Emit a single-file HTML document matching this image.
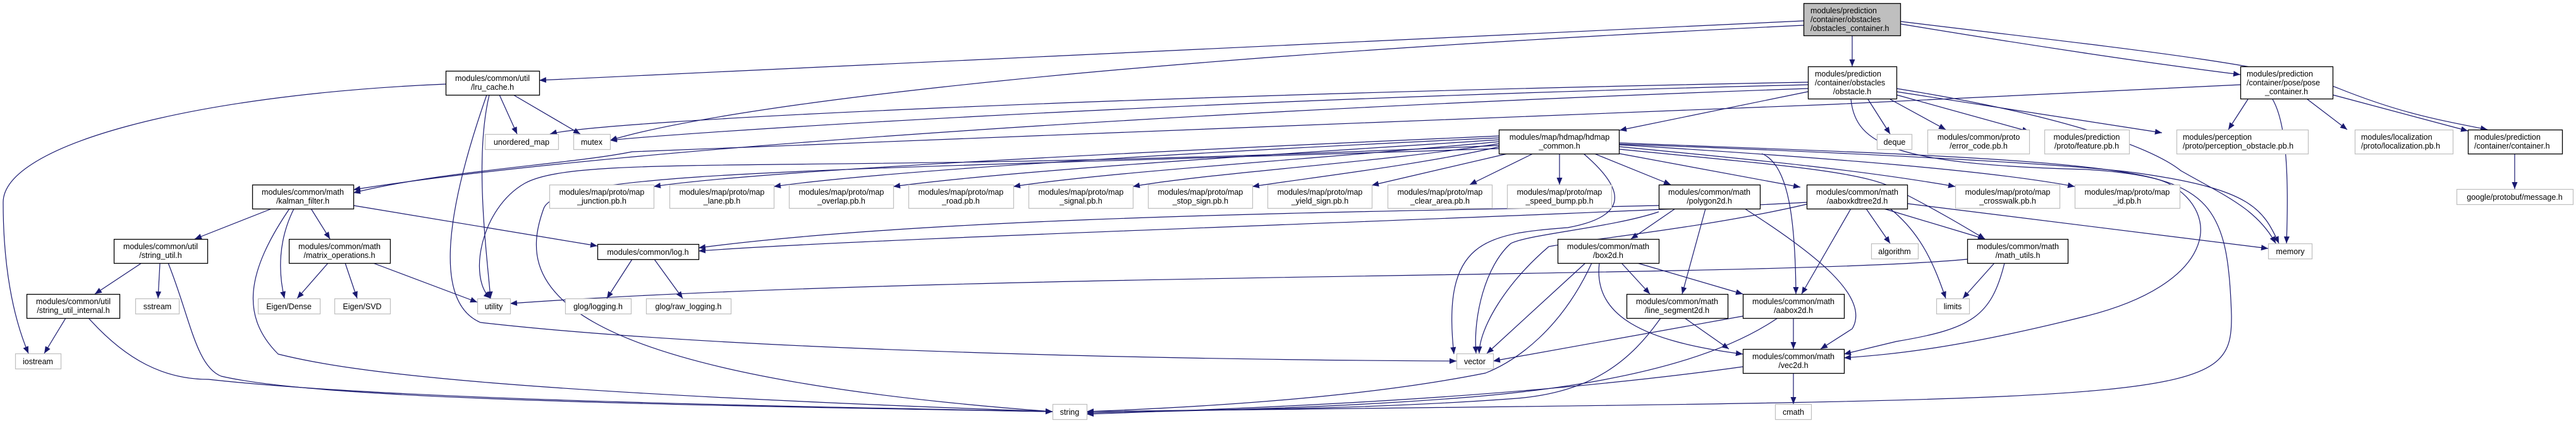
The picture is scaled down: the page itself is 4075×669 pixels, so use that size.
<!DOCTYPE html>
<html><head><meta charset="utf-8"><style>
html,body{margin:0;padding:0;background:#fff}
svg{display:block}
text{font-family:"Liberation Sans",Arial,sans-serif;font-size:12.5px;fill:#000}
.e{fill:none;stroke:#191970;stroke-width:1.2;marker-end:url(#a)}
.d{fill:#fff;stroke:#000;stroke-width:1.3}
.x{fill:#fff;stroke:#bfbfbf;stroke-width:1.2}
</style></head><body>
<svg width="4075" height="669" viewBox="0 0 4075 669" xmlns="http://www.w3.org/2000/svg">
<defs><marker id="a" markerUnits="userSpaceOnUse" markerWidth="11" markerHeight="9" viewBox="0 0 11 9" refX="11" refY="4.5" orient="auto"><path d="M0,0 L11,4.5 L0,9 z" fill="#191970"/></marker></defs>
<g>
<!-- OC edges -->
<path class="e" d="M2930 56 L2930 105"/>
<path class="e" d="M2853 33 L853 127"/>
<path class="e" d="M2853 40 C1600 100,1100 180,965 222"/>
<path class="e" d="M3007 38 C3200 70,3400 100,3544 118"/>
<path class="e" d="M3007 34 C3300 70,3600 100,3700 140 C3800 180,3860 190,3935 205"/>
<!-- OB edges -->
<path class="e" d="M2860 130 C1800 150,950 190,870 212"/>
<path class="e" d="M2860 134 C1800 160,1050 212,965 222"/>
<path class="e" d="M2860 140 C2000 170,1000 230,559 300"/>
<path class="e" d="M2860 145 L2562 206"/>
<path class="e" d="M2955 157 L2990 212"/>
<path class="e" d="M2990 157 L3078 205"/>
<path class="e" d="M3000 150 L3210 208"/>
<path class="e" d="M3000 145 L3420 210"/>
<path class="e" d="M3000 140 C3250 180,3400 230,3450 270 C3520 310,3570 330,3600 385"/>
<path class="e" d="M2928 157 C2935 230,3000 260,3300 268 C3500 280,3525 330,3530 500 C3530 640,3480 630,1719 651"/>
<!-- POSE edges -->
<path class="e" d="M3544 134 C3200 150,3000 160,2900 165 C2000 200,1200 230,1000 240 C900 260,700 270,559 305"/>
<path class="e" d="M3556 157 L3525 205"/>
<path class="e" d="M3595 157 C3620 200,3620 300,3617 385"/>
<path class="e" d="M3650 157 L3713 205"/>
<path class="e" d="M3690 150 L3904 207"/>
<path class="e" d="M3978 243 L3978 299"/>
<!-- LRU edges -->
<path class="e" d="M705 133 C300 150,5 230,5 320 C5 420,20 500,45 559"/>
<path class="e" d="M790 150 L818 212"/>
<path class="e" d="M812 150 L918 212"/>
<path class="e" d="M774 150 C750 250,770 400,776 472"/>
<path class="e" d="M770 150 C700 350,690 480,760 510 C1200 560,2000 570,2304 571"/>
<!-- HC edges -->
<path class="e" d="M2372 215 C1800 240,1200 270,1034 295"/>
<path class="e" d="M2372 218 C1900 240,1400 270,1224 295"/>
<path class="e" d="M2372 221 C2000 245,1600 270,1413 295"/>
<path class="e" d="M2372 224 C2100 250,1750 272,1603 295"/>
<path class="e" d="M2372 227 C2200 255,1900 275,1792 295"/>
<path class="e" d="M2372 232 C2250 260,2080 280,1981 295"/>
<path class="e" d="M2385 243 L2170 293"/>
<path class="e" d="M2425 243 L2325 292"/>
<path class="e" d="M2467 243 L2467 292"/>
<path class="e" d="M2522 243 L2643 292"/>
<path class="e" d="M2562 243 L2848 296"/>
<path class="e" d="M2562 232 C2800 255,2950 270,3093 295"/>
<path class="e" d="M2562 229 C2900 250,3150 270,3282 295"/>
<path class="e" d="M2562 236 C2800 260,2950 270,3000 300 C3060 330,3110 360,3140 378"/>
<path class="e" d="M2562 228 C2900 240,3300 260,3390 275 C3560 300,3580 330,3605 385"/>
<path class="e" d="M2562 226 C2900 240,3350 250,3430 290 C3520 340,3500 450,3300 500 C3100 550,3000 560,2917 566"/>
<path class="e" d="M2787 243 C2830 260,2840 350,2841 465"/>
<path class="e" d="M2505 243 C2560 290,2590 340,2480 360 C2350 370,2280 380,2300 560"/>
<path class="e" d="M2372 230 C1300 280,920 240,830 290 C760 330,740 440,776 472"/>
<path class="e" d="M2372 235 C1300 270,880 270,860 330 C820 440,840 590,1665 651"/>
<!-- POLY edges -->
<path class="e" d="M2650 330 L2580 378"/>
<path class="e" d="M2698 330 L2661 465"/>
<path class="e" d="M2760 330 C2870 400,2960 470,2930 520 L2880 552"/>
<path class="e" d="M2624 335 C2550 360,2420 370,2390 385 C2350 420,2330 500,2335 559"/>
<path class="e" d="M2624 325 C2200 335,1500 340,1105 392"/>
<!-- AKD edges -->
<path class="e" d="M2928 330 L2850 465"/>
<path class="e" d="M2952 330 L2990 385"/>
<path class="e" d="M2990 330 C3040 370,3060 420,3078 472"/>
<path class="e" d="M2980 330 L3140 378"/>
<path class="e" d="M3017 322 L3588 393"/>
<path class="e" d="M2858 323 C2700 360,2500 380,2450 390 C2380 450,2340 520,2340 559"/>
<path class="e" d="M2858 320 C2400 345,1400 375,1105 397"/>
<!-- BOX edges -->
<path class="e" d="M2565 416 L2610 465"/>
<path class="e" d="M2590 416 L2757 465"/>
<path class="e" d="M2530 416 C2520 500,2600 540,2757 560"/>
<path class="e" d="M2508 416 L2352 559"/>
<path class="e" d="M2518 416 C2470 520,2400 570,2350 590 C2200 620,2000 640,1719 651"/>
<!-- LS, AB, V2 -->
<path class="e" d="M2665 503 L2735 552"/>
<path class="e" d="M2627 503 C2580 570,2520 620,2400 630 C2200 645,2000 648,1719 651"/>
<path class="e" d="M2837 503 L2837 552"/>
<path class="e" d="M2757 500 L2362 571"/>
<path class="e" d="M2812 503 C2700 580,2500 615,2300 630 C2100 645,1900 650,1719 653"/>
<path class="e" d="M2837 590 L2837 639"/>
<path class="e" d="M2757 580 C2400 630,2000 645,1719 655"/>
<!-- MU -->
<path class="e" d="M3155 416 L3105 472"/>
<path class="e" d="M3171 416 C3150 500,3120 520,3000 540 L2917 560"/>
<path class="e" d="M3112 410 C2800 440,1500 430,807 480"/>
<!-- KAL -->
<path class="e" d="M430 330 L308 378"/>
<path class="e" d="M492 330 L522 378"/>
<path class="e" d="M465 330 C440 380,440 430,450 472"/>
<path class="e" d="M559 325 L945 389"/>
<path class="e" d="M458 330 C390 430,380 500,440 560 C560 590,800 620,1665 651"/>
<!-- SU, SUI -->
<path class="e" d="M224 416 L150 465"/>
<path class="e" d="M253 416 L250 472"/>
<path class="e" d="M266 416 C300 500,310 580,350 595 C500 630,1000 640,1665 651"/>
<path class="e" d="M104 503 L70 559"/>
<path class="e" d="M140 503 C200 570,260 600,330 600 C600 630,1100 640,1665 651"/>
<!-- MO -->
<path class="e" d="M519 416 L470 472"/>
<path class="e" d="M546 416 L565 472"/>
<path class="e" d="M590 416 L755 478"/>
<!-- LOG -->
<path class="e" d="M1000 410 L960 472"/>
<path class="e" d="M1035 410 L1080 472"/>
</g>
<g>
<!-- nodes -->
<rect x="2853.5" y="5.5" width="153" height="51" fill="#bfbfbf" stroke="#000" stroke-width="1.3"/>
<text x="2864" y="21">modules/prediction</text><text x="2864" y="35">/container/obstacles</text><text x="2864" y="49">/obstacles_container.h</text>
<rect class="d" x="2860.5" y="105.5" width="140" height="51"/>
<text x="2871" y="121">modules/prediction</text><text x="2871" y="135">/container/obstacles</text><text x="2930" y="149" text-anchor="middle">/obstacle.h</text>
<rect class="d" x="3544.5" y="105.5" width="146" height="51"/>
<text x="3554" y="121">modules/prediction</text><text x="3554" y="135">/container/pose/pose</text><text x="3617" y="149" text-anchor="middle">_container.h</text>
<rect class="d" x="705.5" y="112.5" width="148" height="38"/>
<text x="779" y="128" text-anchor="middle">modules/common/util</text><text x="779" y="142" text-anchor="middle">/lru_cache.h</text>
<rect class="d" x="2371.5" y="205.5" width="190" height="38"/>
<text x="2467" y="221" text-anchor="middle">modules/map/hdmap/hdmap</text><text x="2467" y="235" text-anchor="middle">_common.h</text>
<rect class="x" x="767.5" y="212.5" width="116" height="24"/><text x="825" y="229" text-anchor="middle">unordered_map</text>
<rect class="x" x="907.5" y="212.5" width="58" height="24"/><text x="936" y="229" text-anchor="middle">mutex</text>
<rect class="x" x="2969.5" y="212.5" width="55" height="24"/><text x="2997" y="229" text-anchor="middle">deque</text>
<rect class="x" x="3049.5" y="205.5" width="161" height="38"/><text x="3130" y="221" text-anchor="middle">modules/common/proto</text><text x="3130" y="235" text-anchor="middle">/error_code.pb.h</text>
<rect class="x" x="3234.5" y="205.5" width="134" height="38"/><text x="3301" y="221" text-anchor="middle">modules/prediction</text><text x="3301" y="235" text-anchor="middle">/proto/feature.pb.h</text>
<rect class="x" x="3443.5" y="205.5" width="208" height="38"/><text x="3453" y="221">modules/perception</text><text x="3453" y="235">/proto/perception_obstacle.pb.h</text>
<rect class="x" x="3725.5" y="205.5" width="155" height="38"/><text x="3735" y="221">modules/localization</text><text x="3735" y="235">/proto/localization.pb.h</text>
<rect class="d" x="3904.5" y="205.5" width="149" height="38"/><text x="3914" y="221">modules/prediction</text><text x="3914" y="235">/container/container.h</text>
<rect class="x" x="3886.5" y="299.5" width="184" height="24"/><text x="3978" y="316" text-anchor="middle">google/protobuf/message.h</text>
<rect class="d" x="399.5" y="292.5" width="160" height="38"/><text x="479" y="308" text-anchor="middle">modules/common/math</text><text x="479" y="322" text-anchor="middle">/kalman_filter.h</text>
<rect class="x" x="869.5" y="292.5" width="165" height="37"/><text x="952" y="308" text-anchor="middle">modules/map/proto/map</text><text x="952" y="322" text-anchor="middle">_junction.pb.h</text>
<rect class="x" x="1059.5" y="292.5" width="165" height="37"/><text x="1142" y="308" text-anchor="middle">modules/map/proto/map</text><text x="1142" y="322" text-anchor="middle">_lane.pb.h</text>
<rect class="x" x="1248.5" y="292.5" width="165" height="37"/><text x="1331" y="308" text-anchor="middle">modules/map/proto/map</text><text x="1331" y="322" text-anchor="middle">_overlap.pb.h</text>
<rect class="x" x="1437.5" y="292.5" width="166" height="37"/><text x="1520" y="308" text-anchor="middle">modules/map/proto/map</text><text x="1520" y="322" text-anchor="middle">_road.pb.h</text>
<rect class="x" x="1627.5" y="292.5" width="165" height="37"/><text x="1710" y="308" text-anchor="middle">modules/map/proto/map</text><text x="1710" y="322" text-anchor="middle">_signal.pb.h</text>
<rect class="x" x="1816.5" y="292.5" width="165" height="37"/><text x="1899" y="308" text-anchor="middle">modules/map/proto/map</text><text x="1899" y="322" text-anchor="middle">_stop_sign.pb.h</text>
<rect class="x" x="2005.5" y="292.5" width="165" height="37"/><text x="2088" y="308" text-anchor="middle">modules/map/proto/map</text><text x="2088" y="322" text-anchor="middle">_yield_sign.pb.h</text>
<rect class="x" x="2195.5" y="292.5" width="165" height="37"/><text x="2278" y="308" text-anchor="middle">modules/map/proto/map</text><text x="2278" y="322" text-anchor="middle">_clear_area.pb.h</text>
<rect class="x" x="2384.5" y="292.5" width="165" height="37"/><text x="2467" y="308" text-anchor="middle">modules/map/proto/map</text><text x="2467" y="322" text-anchor="middle">_speed_bump.pb.h</text>
<rect class="d" x="2624.5" y="292.5" width="160" height="38"/><text x="2704" y="308" text-anchor="middle">modules/common/math</text><text x="2704" y="322" text-anchor="middle">/polygon2d.h</text>
<rect class="d" x="2858.5" y="292.5" width="159" height="38"/><text x="2938" y="308" text-anchor="middle">modules/common/math</text><text x="2938" y="322" text-anchor="middle">/aaboxkdtree2d.h</text>
<rect class="x" x="3093.5" y="292.5" width="165" height="37"/><text x="3176" y="308" text-anchor="middle">modules/map/proto/map</text><text x="3176" y="322" text-anchor="middle">_crosswalk.pb.h</text>
<rect class="x" x="3282.5" y="292.5" width="166" height="37"/><text x="3365" y="308" text-anchor="middle">modules/map/proto/map</text><text x="3365" y="322" text-anchor="middle">_id.pb.h</text>
<rect class="d" x="180.5" y="378.5" width="148" height="38"/><text x="254" y="394" text-anchor="middle">modules/common/util</text><text x="254" y="408" text-anchor="middle">/string_util.h</text>
<rect class="d" x="457.5" y="378.5" width="160" height="38"/><text x="537" y="394" text-anchor="middle">modules/common/math</text><text x="537" y="408" text-anchor="middle">/matrix_operations.h</text>
<rect class="d" x="945.5" y="386.5" width="160" height="24"/><text x="1025" y="403" text-anchor="middle">modules/common/log.h</text>
<rect class="d" x="2464.5" y="378.5" width="160" height="38"/><text x="2544" y="394" text-anchor="middle">modules/common/math</text><text x="2544" y="408" text-anchor="middle">/box2d.h</text>
<rect class="x" x="2960.5" y="385.5" width="74" height="24"/><text x="2997" y="402" text-anchor="middle">algorithm</text>
<rect class="d" x="3112.5" y="378.5" width="159" height="38"/><text x="3192" y="394" text-anchor="middle">modules/common/math</text><text x="3192" y="408" text-anchor="middle">/math_utils.h</text>
<rect class="x" x="3588.5" y="385.5" width="69" height="24"/><text x="3623" y="402" text-anchor="middle">memory</text>
<rect class="d" x="42.5" y="465.5" width="147" height="38"/><text x="116" y="481" text-anchor="middle">modules/common/util</text><text x="116" y="495" text-anchor="middle">/string_util_internal.h</text>
<rect class="x" x="214.5" y="472.5" width="69" height="24"/><text x="249" y="489" text-anchor="middle">sstream</text>
<rect class="x" x="408.5" y="472.5" width="98" height="24"/><text x="457" y="489" text-anchor="middle">Eigen/Dense</text>
<rect class="x" x="529.5" y="472.5" width="88" height="24"/><text x="573" y="489" text-anchor="middle">Eigen/SVD</text>
<rect class="x" x="755.5" y="472.5" width="52" height="24"/><text x="781" y="489" text-anchor="middle">utility</text>
<rect class="x" x="894.5" y="472.5" width="104" height="24"/><text x="946" y="489" text-anchor="middle">glog/logging.h</text>
<rect class="x" x="1022.5" y="472.5" width="134" height="24"/><text x="1089" y="489" text-anchor="middle">glog/raw_logging.h</text>
<rect class="x" x="3063.5" y="472.5" width="52" height="24"/><text x="3089" y="489" text-anchor="middle">limits</text>
<rect class="d" x="2573.5" y="465.5" width="160" height="38"/><text x="2653" y="481" text-anchor="middle">modules/common/math</text><text x="2653" y="495" text-anchor="middle">/line_segment2d.h</text>
<rect class="d" x="2757.5" y="465.5" width="160" height="38"/><text x="2837" y="481" text-anchor="middle">modules/common/math</text><text x="2837" y="495" text-anchor="middle">/aabox2d.h</text>
<rect class="x" x="24.5" y="559.5" width="72" height="24"/><text x="60" y="576" text-anchor="middle">iostream</text>
<rect class="x" x="2304.5" y="559.5" width="58" height="24"/><text x="2333" y="576" text-anchor="middle">vector</text>
<rect class="d" x="2757.5" y="552.5" width="160" height="38"/><text x="2837" y="568" text-anchor="middle">modules/common/math</text><text x="2837" y="582" text-anchor="middle">/vec2d.h</text>
<rect class="x" x="1665.5" y="639.5" width="54" height="24"/><text x="1692" y="656" text-anchor="middle">string</text>
<rect class="x" x="2808.5" y="639.5" width="57" height="24"/><text x="2837" y="656" text-anchor="middle">cmath</text>
</g>
</svg>
</body></html>
